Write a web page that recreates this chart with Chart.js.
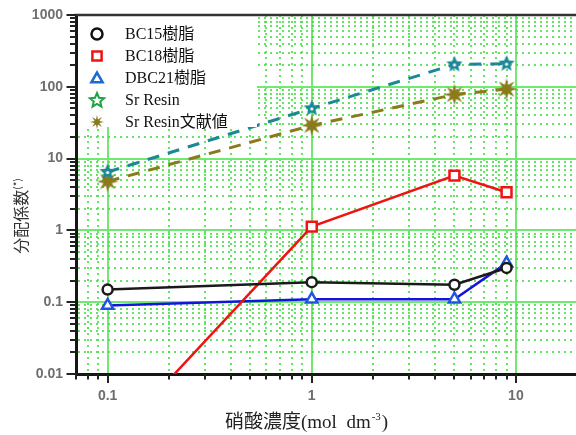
<!DOCTYPE html>
<html>
<head>
<meta charset="utf-8">
<script src="https://cdn.jsdelivr.net/npm/chart.js@4.4.1/dist/chart.umd.min.js"></script>
<style>
  html, body { margin: 0; padding: 0; background: #fff; }
  canvas { display: block; }
</style>
</head>
<body>
<canvas id="c" width="576" height="435"></canvas>
<script>
// Nitric acid concentration (mol dm-3)
const concentration = [0.1, 1, 5, 9];

// Distribution coefficients per resin
const bc15 = [0.15, 0.19, 0.175, 0.30];
const bc18 = [0.001, 1.13, 5.8, 3.4];
const dbc21 = [0.09, 0.11, 0.11, 0.35];
const srResin = [6.5, 50, 205, 210];
const srResinLit = [4.8, 29, 78, 93];

const seriesNames = ['BC15樹脂', 'BC18樹脂', 'DBC21樹脂', 'Sr Resin', 'Sr Resin文献値'];
const xTickLabels = ['0.1', '1', '10'];
const yTickLabels = ['0.01', '0.1', '1', '10', '100', '1000'];
const xRange = [0.07, 19.7];
const yRange = [0.01, 1000];

const LEGEND_FONT = "16px 'Liberation Serif', 'Noto Sans CJK JP', serif";
const CJK_FONT = "'Noto Sans CJK JP', 'Noto Sans', sans-serif";
const SERIF_FONT = "'Liberation Serif', 'DejaVu Serif', serif";
const TICK_FONT = { family: "'Liberation Sans', Arial, sans-serif", size: 14, weight: 'bold' };
const TICK_COLOR = '#6e6e6e';

// 1..9 x 10^n ticks inside a range, plus an unlabelled tick at the upper end
function logTicks(min, max) {
  const out = [];
  for (let e = Math.floor(Math.log10(min)); e <= Math.ceil(Math.log10(max)); e++) {
    for (let m = 1; m <= 9; m++) {
      const v = parseFloat((m * Math.pow(10, e)).toPrecision(6));
      if (v >= min * (1 - 1e-9) && v <= max * (1 + 1e-9)) out.push({ value: v, major: m === 1 });
    }
  }
  if (out[out.length - 1].value < max * (1 - 1e-9)) out.push({ value: max, major: false, edge: true });
  return out;
}
function labelFor(list, v) {
  const hit = list.find(l => Math.abs(parseFloat(l) - v) < 1e-9 * Math.max(1, v));
  return hit === undefined ? '' : hit;
}

// Marker images
function starPath(ctx, cx, cy, n, ro, ri) {
  ctx.beginPath();
  for (let i = 0; i < n * 2; i++) {
    const r = i % 2 === 0 ? ro : ri;
    const a = -Math.PI / 2 + i * Math.PI / n;
    const px = cx + r * Math.cos(a), py = cy + r * Math.sin(a);
    if (i === 0) ctx.moveTo(px, py); else ctx.lineTo(px, py);
  }
  ctx.closePath();
}
function makeStar(size, ro, ri, fill, hole) {
  const cv = document.createElement('canvas');
  cv.width = size; cv.height = size;
  const g = cv.getContext('2d');
  starPath(g, size / 2, size / 2, 5, ro, ri);
  g.fillStyle = fill; g.fill();
  if (hole) {
    g.beginPath(); g.arc(size / 2, size / 2 + 0.5, hole, 0, Math.PI * 2);
    g.fillStyle = '#fff'; g.fill();
  }
  return cv;
}
function makeBurst(size, ro, ri, fill) {
  const cv = document.createElement('canvas');
  cv.width = size; cv.height = size;
  const g = cv.getContext('2d');
  starPath(g, size / 2, size / 2, 8, ro, ri);
  g.fillStyle = fill; g.fill();
  return cv;
}

const TEAL = '#1c8896';
const OLIVE = '#8a7a1c';
const starImg = makeStar(20, 8.5, 4, TEAL, 1.6);
const burstImg = makeBurst(24, 11, 4.5, OLIVE);

function pts(ys) { return concentration.map((x, i) => ({ x: x, y: ys[i] })); }

const datasets = [
  { label: seriesNames[0], data: pts(bc15), borderColor: '#1a1a1a', borderWidth: 2.5,
    pointStyle: 'circle', pointRadius: 5, pointBorderWidth: 2.5,
    pointBackgroundColor: '#fff', pointBorderColor: '#1a1a1a' },
  { label: seriesNames[1], data: pts(bc18), borderColor: '#ee1414', borderWidth: 2.5,
    pointStyle: 'rect', pointRadius: 7, pointBorderWidth: 2.5,
    pointBackgroundColor: '#fff', pointBorderColor: '#ee1414' },
  { label: seriesNames[2], data: pts(dbc21), borderColor: '#1414dc', borderWidth: 2.5,
    pointStyle: 'triangle', pointRadius: 6.5, pointBorderWidth: 2.5,
    pointBackgroundColor: '#fff', pointBorderColor: '#1f55e0' },
  { label: seriesNames[3], data: pts(srResin), borderColor: TEAL, borderWidth: 3,
    borderDash: [12, 9], pointStyle: starImg },
  { label: seriesNames[4], data: pts(srResinLit), borderColor: OLIVE, borderWidth: 3,
    borderDash: [12, 9], pointStyle: burstImg }
];
datasets.forEach(d => { d.clip = 0; d.showLine = true; d.tension = 0; });

const gridColor = c => {
  if (!c.tick || c.tick.edge) return 'rgba(0,0,0,0)';
  return c.tick.major ? 'rgba(105,232,105,0.95)' : 'rgba(60,222,60,0.8)';
};
const gridDash = c => (c.tick && !c.tick.major) ? [2, 4] : [];

// Legend box, tick marks, frame and axis titles
const decorations = {
  id: 'decorations',
  afterDatasetsDraw(chart) {
    const ctx = chart.ctx, a = chart.chartArea;
    ctx.save();
    // legend
    ctx.fillStyle = '#fff';
    ctx.fillRect(a.left + 2, a.top, 257 - a.left - 2, 127 - a.top);
    const mx = 97, tx = 125, rows = [34, 56, 78, 100, 122];
    ctx.lineWidth = 2.5;
    ctx.fillStyle = '#fff';
    ctx.strokeStyle = '#111';
    Chart.helpers.drawPoint(ctx, { pointStyle: 'circle', radius: 5.5, borderWidth: 2.5, rotation: 0 }, mx, rows[0]);
    ctx.strokeStyle = '#ee1414';
    Chart.helpers.drawPoint(ctx, { pointStyle: 'rect', radius: 6.5, borderWidth: 2.5, rotation: 0 }, mx, rows[1]);
    ctx.strokeStyle = '#1a6ad0';
    Chart.helpers.drawPoint(ctx, { pointStyle: 'triangle', radius: 6.5, borderWidth: 2.5, rotation: 0 }, mx, rows[2] + 1);
    ctx.strokeStyle = '#1fa244'; ctx.lineWidth = 2;
    starPath(ctx, mx, rows[3] + 0.5, 5, 7.5, 3.4); ctx.stroke();
    ctx.fillStyle = OLIVE;
    starPath(ctx, mx, rows[4], 8, 7, 2.6); ctx.fill();
    ctx.fillStyle = '#111';
    ctx.font = LEGEND_FONT;
    ctx.textBaseline = 'middle';
    ctx.textAlign = 'left';
    seriesNames.forEach((n, i) => ctx.fillText(n, tx, rows[i] + 1));

    // top frame
    ctx.strokeStyle = '#333'; ctx.lineWidth = 2.5;
    ctx.beginPath(); ctx.moveTo(a.left - 1.5, a.top); ctx.lineTo(a.right, a.top); ctx.stroke();

    // tick marks
    const xs = chart.scales.x, ys = chart.scales.y;
    ctx.strokeStyle = '#222'; ctx.lineWidth = 2;
    ctx.beginPath();
    xs.ticks.forEach(t => {
      if (t.edge) return;
      const p = Math.round(xs.getPixelForValue(t.value));
      ctx.moveTo(p, a.bottom); ctx.lineTo(p, a.bottom + (t.major ? 9 : 5.5));
    });
    ys.ticks.forEach(t => {
      if (t.edge) return;
      const p = Math.round(ys.getPixelForValue(t.value));
      ctx.moveTo(a.left, p); ctx.lineTo(a.left - (t.major ? 9.5 : 6), p);
    });
    ctx.stroke();

    // x axis title
    ctx.fillStyle = '#222';
    ctx.textBaseline = 'alphabetic';
    let x = 225;
    const base = 428;
    ctx.font = '19px ' + CJK_FONT;
    ctx.fillText('硝酸濃度', x, base); x += ctx.measureText('硝酸濃度').width;
    ctx.font = '19px ' + SERIF_FONT;
    ctx.fillText('(mol  dm', x, base); x += ctx.measureText('(mol  dm').width;
    ctx.font = '11px ' + SERIF_FONT;
    ctx.fillText('-3', x + 1, base - 8); x += ctx.measureText('-3').width + 2;
    ctx.font = '19px ' + SERIF_FONT;
    ctx.fillText(')', x, base);

    // y axis title
    ctx.save();
    ctx.translate(27, 216);
    ctx.rotate(-Math.PI / 2);
    ctx.fillStyle = '#333';
    ctx.font = '16px ' + CJK_FONT;
    const main = '分配係数';
    const w1 = ctx.measureText(main).width;
    ctx.font = '10px ' + CJK_FONT;
    const sup = '(*)';
    const w2 = ctx.measureText(sup).width;
    const start = -(w1 + w2) / 2;
    ctx.font = '16px ' + CJK_FONT;
    ctx.fillText(main, start, 0);
    ctx.font = '10px ' + CJK_FONT;
    ctx.fillText(sup, start + w1, -6);
    ctx.restore();

    ctx.restore();
  }
};

new Chart(document.getElementById('c'), {
  type: 'scatter',
  data: { datasets: datasets },
  options: {
    responsive: false,
    animation: false,
    devicePixelRatio: 1,
    layout: { autoPadding: false, padding: { top: 15, left: 0, right: 0, bottom: 0 } },
    plugins: { legend: { display: false }, tooltip: { enabled: false } },
    scales: {
      x: {
        type: 'logarithmic',
        min: xRange[0], max: xRange[1],
        afterBuildTicks: s => { s.ticks = logTicks(xRange[0], xRange[1]); },
        afterFit: s => { s.height = 61; },
        ticks: {
          autoSkip: false, maxRotation: 0, padding: 0,
          color: TICK_COLOR, font: TICK_FONT,
          callback: v => labelFor(xTickLabels, v)
        },
        grid: { drawTicks: true, tickLength: 14, tickColor: 'rgba(0,0,0,0)', color: gridColor, lineWidth: 2 },
        border: { display: true, color: '#161616', width: 3, dash: gridDash }
      },
      y: {
        type: 'logarithmic',
        min: yRange[0], max: yRange[1],
        afterBuildTicks: s => { s.ticks = logTicks(yRange[0], yRange[1]); },
        afterFit: s => { s.width = 76; },
        ticks: {
          autoSkip: false, padding: 0,
          color: TICK_COLOR, font: TICK_FONT,
          callback: v => labelFor(yTickLabels, v)
        },
        grid: { drawTicks: true, tickLength: 13, tickColor: 'rgba(0,0,0,0)', color: gridColor, lineWidth: 2 },
        border: { display: true, color: '#161616', width: 3, dash: gridDash }
      }
    }
  },
  plugins: [decorations]
});
</script>
</body>
</html>
